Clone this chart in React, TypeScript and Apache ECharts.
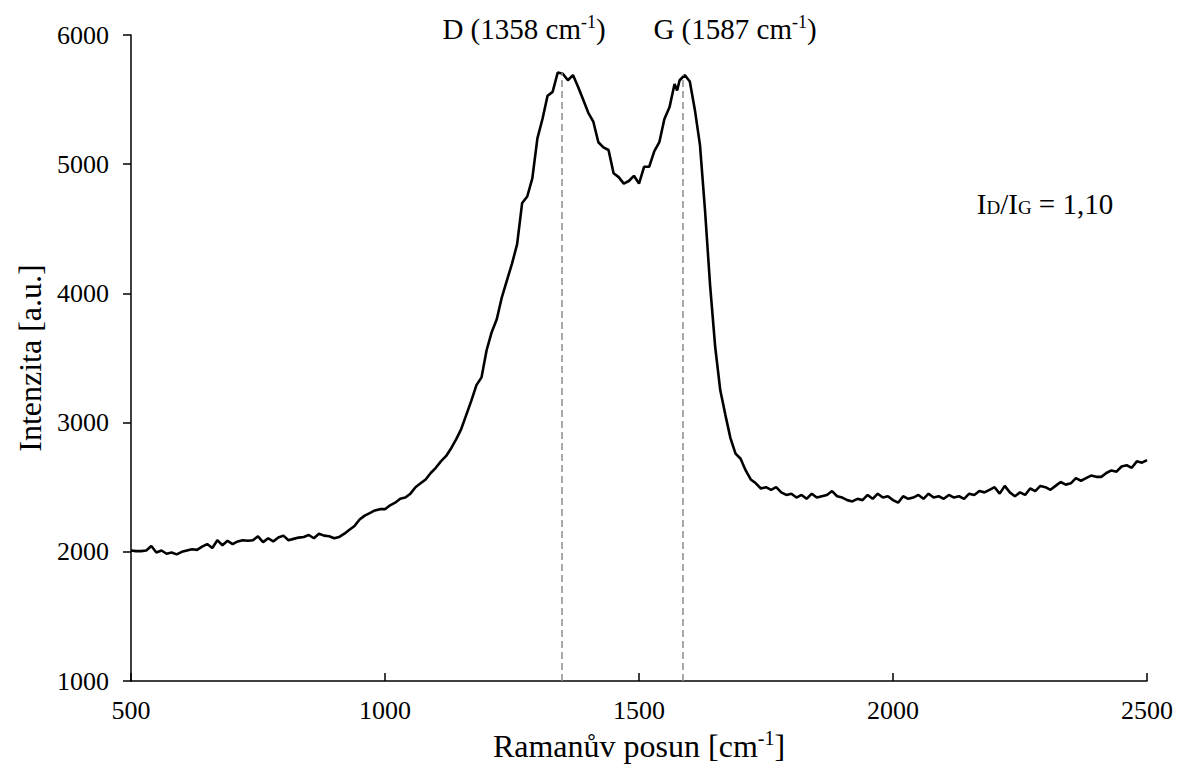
import React, { useEffect, useRef } from "react";
import * as echarts from "echarts";

const shift: number[] = [
  500, 510, 520, 530, 540, 550, 560, 570, 580, 590,
  600, 610, 620, 630, 640, 650, 660, 670, 680, 690,
  700, 710, 720, 730, 740, 750, 760, 770, 780, 790,
  800, 810, 820, 830, 840, 850, 860, 870, 880, 890,
  900, 910, 920, 930, 940, 950, 960, 970, 980, 990,
  1000, 1010, 1020, 1030, 1040, 1050, 1060, 1070, 1080, 1090,
  1100, 1110, 1120, 1130, 1140, 1150, 1160, 1170, 1180, 1190,
  1200, 1210, 1220, 1230, 1240, 1250, 1260, 1270, 1280, 1290,
  1300, 1310, 1320, 1330, 1340, 1350, 1360, 1370, 1380, 1390,
  1400, 1410, 1420, 1430, 1440, 1450, 1460, 1470, 1480, 1490,
  1500, 1510, 1520, 1530, 1540, 1550, 1560, 1570, 1575, 1580, 1590,
  1600, 1610, 1620, 1630, 1640, 1650, 1660, 1670, 1680, 1690,
  1700, 1710, 1720, 1730, 1740, 1750, 1760, 1770, 1780, 1790,
  1800, 1810, 1820, 1830, 1840, 1850, 1860, 1870, 1880, 1890,
  1900, 1910, 1920, 1930, 1940, 1950, 1960, 1970, 1980, 1990,
  2000, 2010, 2020, 2030, 2040, 2050, 2060, 2070, 2080, 2090,
  2100, 2110, 2120, 2130, 2140, 2150, 2160, 2170, 2180, 2190,
  2200, 2210, 2220, 2230, 2240, 2250, 2260, 2270, 2280, 2290,
  2300, 2310, 2320, 2330, 2340, 2350, 2360, 2370, 2380, 2390,
  2400, 2410, 2420, 2430, 2440, 2450, 2460, 2470, 2480, 2490,
  2500,
];

const intensity: number[] = [
  2010, 2005, 2005, 2010, 2045, 1995, 2010, 1985, 1995, 1980,
  2000, 2010, 2020, 2015, 2040, 2060, 2030, 2090, 2050, 2085,
  2060, 2080, 2090, 2085, 2090, 2120, 2075, 2105, 2080, 2110,
  2125, 2090, 2100, 2110, 2115, 2130, 2105, 2140, 2125, 2120,
  2105, 2115, 2140, 2170, 2200, 2250, 2280, 2300, 2320, 2330,
  2330, 2360, 2380, 2410, 2420, 2450, 2500, 2530, 2560, 2610,
  2650, 2700, 2740, 2800, 2870, 2950, 3060, 3170, 3290, 3350,
  3560, 3700, 3800, 3970, 4100, 4230, 4380, 4700, 4750, 4890,
  5200, 5350, 5530, 5560, 5710, 5700, 5650, 5690, 5600, 5500,
  5400, 5330, 5170, 5130, 5110, 4930, 4900, 4850, 4870, 4910,
  4850, 4980, 4980, 5100, 5170, 5350, 5440, 5620, 5570, 5650, 5690,
  5640, 5420, 5150, 4640, 4060, 3585, 3250, 3060, 2880, 2760,
  2720, 2630, 2560, 2530, 2490, 2500, 2480, 2500, 2460, 2440,
  2450, 2420, 2440, 2410, 2450, 2420, 2430, 2440, 2470, 2430,
  2420, 2400, 2390, 2410, 2400, 2440, 2410, 2450, 2420, 2430,
  2400, 2380, 2430, 2410, 2420, 2440, 2410, 2450, 2420, 2430,
  2410, 2440, 2420, 2430, 2410, 2450, 2440, 2470, 2460, 2480,
  2500, 2450, 2510, 2460, 2430, 2460, 2440, 2490, 2470, 2510,
  2500, 2480, 2510, 2540, 2520, 2530, 2570, 2550, 2570, 2590,
  2580, 2580, 2610, 2630, 2620, 2660, 2670, 2650, 2700, 2690,
  2710,
];

const peakShift: number[] = [1348, 1587];
const peakTop: number[] = [5710, 5690];
const peakLabels: string[] = ["D (1358 cm", "G (1587 cm"];
const xTicks = { min: 500, max: 2500, interval: 500 };
const yTicks = { min: 1000, max: 6000, interval: 1000 };

const FONT = "'Liberation Serif', 'Times New Roman', serif";

export default function App() {
  const ref = useRef<HTMLDivElement>(null);
  useEffect(() => {
    if (!ref.current) return;
    const chart = echarts.init(ref.current, undefined, { renderer: "svg" });
    const data = shift.map((x, i) => [x, intensity[i]]);
    const titleRich = {
      a: { fontSize: 32, fontFamily: FONT, color: "#000", lineHeight: 36 },
      s: { fontSize: 20, fontFamily: FONT, color: "#000", lineHeight: 36, verticalAlign: "top", padding: [0, 0, 14, 0] },
    };
    const labelRich = {
      a: { fontSize: 29, fontFamily: FONT, color: "#000", lineHeight: 32 },
      s: { fontSize: 18, fontFamily: FONT, color: "#000", lineHeight: 32, verticalAlign: "top", padding: [0, 0, 13, 0] },
    };
    chart.setOption({
      animation: false,
      backgroundColor: "#fff",
      grid: { left: 131, right: 34, top: 35, bottom: 93, containLabel: false, outerBoundsMode: "none" },
      xAxis: {
        type: "value",
        min: xTicks.min,
        max: xTicks.max,
        interval: xTicks.interval,
        name: "{a|Ramanův posun [cm}{s|-1}{a|]}",
        nameLocation: "middle",
        nameGap: 43,
        nameTextStyle: { rich: titleRich },
        axisLine: { show: true, onZero: false, lineStyle: { color: "#000", width: 1.5 } },
        axisTick: { show: true, inside: true, length: 8, lineStyle: { color: "#000", width: 1.5 } },
        axisLabel: { color: "#000", fontSize: 26, fontFamily: FONT, margin: 16, formatter: (v: number) => String(v) },
        splitLine: { show: false },
      },
      yAxis: {
        type: "value",
        min: yTicks.min,
        max: yTicks.max,
        interval: yTicks.interval,
        name: "Intenzita [a.u.]",
        nameLocation: "middle",
        nameGap: 84,
        nameTextStyle: { color: "#000", fontSize: 32, fontFamily: FONT },
        axisLine: { show: true, lineStyle: { color: "#000", width: 1.5 } },
        axisTick: { show: true, inside: false, length: 8, lineStyle: { color: "#000", width: 1.5 } },
        axisLabel: { color: "#000", fontSize: 26, fontFamily: FONT, margin: 22, formatter: (v: number) => String(v) },
        splitLine: { show: false },
      },
      series: [
        {
          type: "line",
          data,
          showSymbol: false,
          symbol: "none",
          smooth: false,
          lineStyle: { color: "#000", width: 2.6 },
          z: 3,
          markLine: {
            silent: true,
            symbol: "none",
            label: { show: false },
            lineStyle: { color: "#8c8c8c", width: 1.5, type: [7, 4] },
            data: peakShift.map((x, i) => [
              { coord: [x, yTicks.min] },
              { coord: [x, peakTop[i]] },
            ]),
          },
        },
      ],
      graphic: [
        {
          type: "text",
          x: 524,
          y: 29,
          style: {
            text: `{a|${peakLabels[0]}}{s|-1}{a|)}`,
            rich: labelRich,
            align: "center",
            verticalAlign: "middle",
          },
        },
        {
          type: "text",
          x: 735,
          y: 29,
          style: {
            text: `{a|${peakLabels[1]}}{s|-1}{a|)}`,
            rich: labelRich,
            align: "center",
            verticalAlign: "middle",
          },
        },
        {
          type: "text",
          x: 1045,
          y: 204,
          style: {
            text: "{a|I}{b|D}{a|/I}{b|G}{a| = 1,10}",
            rich: {
              a: { fontSize: 29, fontFamily: FONT, color: "#000", lineHeight: 32 },
              b: { fontSize: 19, fontFamily: FONT, color: "#000", lineHeight: 32, verticalAlign: "bottom", padding: [0, 0, 3, 0] },
            },
            align: "center",
            verticalAlign: "middle",
          },
        },
      ],
    });
    return () => chart.dispose();
  }, []);
  return (
    <div
      ref={ref}
      style={{ position: "absolute", left: 0, top: 0, width: 1181, height: 774 }}
    />
  );
}
